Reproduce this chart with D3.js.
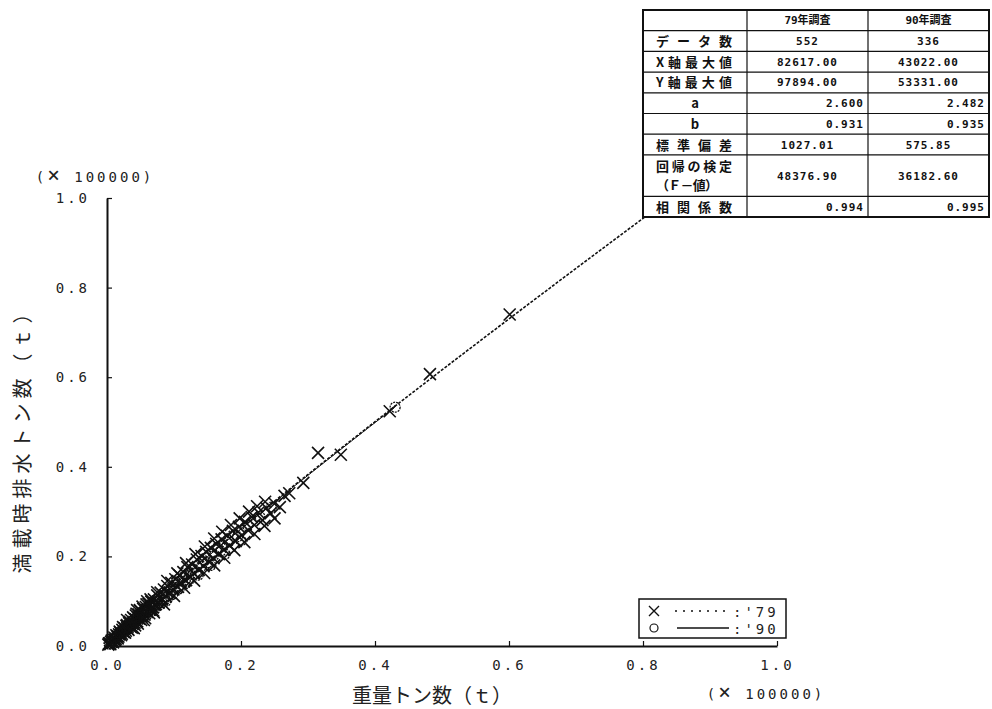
<!DOCTYPE html>
<html lang="ja">
<head>
<meta charset="UTF-8">
<title>重量トン数と満載時排水トン数</title>
<script src="https://d3js.org/d3.v7.min.js"></script>
<style>
html, body { margin: 0; padding: 0; background: white; }
svg { display: block; }
.tick text, .unit, .legend text {
  font-family: 'DejaVu Sans Mono', monospace;
  font-size: 14px;
  letter-spacing: 3px;
  fill: #222;
}
.axis path, .axis line { stroke: #111; }
.axis path { stroke-width: 2px; }
.axis line { stroke-width: 1.2px; }
.title {
  font-family: 'Noto Sans CJK JP', sans-serif;
  font-size: 20px;
  fill: #222;
}
.tbl text {
  font-family: 'DejaVu Sans Mono', 'Noto Sans CJK JP', monospace;
  font-size: 11px;
  font-weight: bold;
  fill: #111;
}
.tbl text.lab {
  font-family: 'Noto Sans CJK JP', sans-serif;
  font-size: 13px;
}
</style>
</head>
<body>
<div id="chart"></div>
<script>

// --------------------------------------
// Data (x 100000 t)
// --------------------------------------

// '79 survey : [重量トン数, 満載時排水トン数]
const pts79 = [
  [0.002,0.003],[0.003,0.006],[0.004,0.006],[0.005,0.004],[0.006,0.009],[0.007,0.012],
  [0.008,0.011],[0.009,0.008],[0.010,0.014],[0.011,0.019],[0.012,0.013],[0.013,0.016],
  [0.014,0.024],[0.015,0.022],[0.016,0.017],[0.017,0.021],[0.018,0.026],[0.019,0.032],
  [0.020,0.030],[0.021,0.024],[0.022,0.027],[0.023,0.036],[0.024,0.042],[0.025,0.031],
  [0.026,0.040],[0.027,0.030],[0.028,0.034],[0.029,0.045],[0.030,0.047],[0.030,0.058],
  [0.031,0.038],[0.032,0.036],[0.033,0.051],[0.034,0.054],[0.035,0.043],[0.036,0.058],
  [0.037,0.041],[0.038,0.049],[0.039,0.064],[0.040,0.062],[0.040,0.040],[0.041,0.052],
  [0.042,0.046],[0.043,0.068],[0.044,0.072],[0.045,0.055],[0.045,0.080],[0.046,0.050],
  [0.047,0.071],[0.048,0.061],[0.049,0.080],[0.050,0.078],[0.051,0.058],[0.052,0.066],
  [0.053,0.088],[0.054,0.083],[0.055,0.058],[0.056,0.070],[0.057,0.062],[0.058,0.087],
  [0.059,0.093],[0.060,0.076],[0.060,0.100],[0.062,0.094],[0.063,0.073],[0.064,0.081],
  [0.065,0.104],[0.066,0.099],[0.068,0.086],[0.069,0.079],[0.070,0.104],[0.070,0.075],
  [0.072,0.092],[0.075,0.113],[0.075,0.120],[0.077,0.097],[0.080,0.119],[0.082,0.104],
  [0.085,0.126],[0.085,0.093],[0.088,0.111],[0.090,0.134],[0.090,0.145],[0.093,0.118],
  [0.096,0.141],[0.099,0.126],[0.100,0.112],[0.102,0.149],[0.105,0.133],[0.105,0.162],
  [0.108,0.158],[0.111,0.140],[0.114,0.165],[0.115,0.130],[0.117,0.147],[0.118,0.185],
  [0.120,0.176],[0.124,0.154],[0.127,0.182],[0.130,0.162],[0.130,0.146],[0.132,0.205],
  [0.134,0.193],[0.137,0.170],[0.141,0.201],[0.144,0.178],[0.145,0.163],[0.146,0.222],
  [0.148,0.210],[0.152,0.188],[0.155,0.219],[0.159,0.196],[0.160,0.240],[0.160,0.180],
  [0.163,0.228],[0.167,0.205],[0.171,0.238],[0.172,0.255],[0.175,0.215],[0.175,0.197],
  [0.179,0.246],[0.183,0.224],[0.185,0.270],[0.188,0.257],[0.190,0.214],[0.192,0.234],
  [0.197,0.266],[0.198,0.285],[0.201,0.247],[0.205,0.232],[0.206,0.277],[0.211,0.258],
  [0.212,0.300],[0.216,0.288],[0.220,0.270],[0.220,0.250],[0.224,0.312],[0.226,0.298],
  [0.232,0.281],[0.235,0.268],[0.236,0.322],[0.238,0.308],[0.244,0.296],[0.250,0.318],
  [0.250,0.285],[0.258,0.310],[0.265,0.335],[0.272,0.341],[0.293,0.364],[0.315,0.431],
  [0.349,0.427],[0.422,0.524],[0.482,0.607],[0.601,0.740],[0.826,0.979]
];

// '90 survey
const pts90 = [
  [0.003,0.005],[0.004,0.004],[0.005,0.007],[0.006,0.010],[0.007,0.010],[0.008,0.008],
  [0.009,0.013],[0.010,0.015],[0.011,0.017],[0.012,0.018],[0.013,0.014],[0.014,0.020],
  [0.015,0.024],[0.016,0.021],[0.017,0.025],[0.018,0.030],[0.019,0.028],[0.020,0.025],
  [0.021,0.032],[0.022,0.029],[0.023,0.034],[0.024,0.036],[0.025,0.030],[0.026,0.034],
  [0.027,0.044],[0.028,0.041],[0.029,0.037],[0.030,0.040],[0.031,0.045],[0.032,0.050],
  [0.033,0.042],[0.034,0.039],[0.035,0.050],[0.036,0.055],[0.037,0.046],[0.038,0.048],
  [0.039,0.056],[0.040,0.064],[0.041,0.051],[0.042,0.055],[0.043,0.060],[0.044,0.068],
  [0.045,0.057],[0.046,0.052],[0.047,0.065],[0.049,0.074],[0.050,0.062],[0.052,0.072],
  [0.053,0.066],[0.055,0.068],[0.057,0.085],[0.058,0.079],[0.060,0.070],[0.061,0.075],
  [0.063,0.092],[0.064,0.085],[0.066,0.077],[0.067,0.082],[0.069,0.100],[0.070,0.093],
  [0.072,0.083],[0.074,0.089],[0.076,0.108],[0.078,0.101],[0.080,0.093],[0.082,0.097],
  [0.084,0.118],[0.086,0.110],[0.088,0.100],[0.090,0.106],[0.093,0.130],[0.095,0.124],
  [0.098,0.115],[0.100,0.131],[0.103,0.143],[0.106,0.127],[0.109,0.128],[0.112,0.145],
  [0.115,0.155],[0.118,0.140],[0.121,0.143],[0.125,0.160],[0.128,0.172],[0.133,0.162],
  [0.136,0.158],[0.141,0.178],[0.145,0.190],[0.150,0.186],[0.155,0.180],[0.160,0.203],
  [0.165,0.220],[0.170,0.212],[0.176,0.205],[0.182,0.233],[0.188,0.248],[0.195,0.244],
  [0.200,0.235],[0.210,0.268],[0.228,0.289],[0.245,0.310],[0.430,0.533]
];

const xTicks = [0.0, 0.2, 0.4, 0.6, 0.8, 1.0];
const yTicks = [0.0, 0.2, 0.4, 0.6, 0.8, 1.0];

// statistics table
const colHeaders = ["", "79年調査", "90年調査"];
const rowLabels = ["データ数", "X軸最大値", "Y軸最大値", "a", "b", "標準偏差", "回帰の検定|（Ｆ－値）", "相関係数"];
const col79 = ["552", "82617.00", "97894.00", "2.600", "0.931", "1027.01", "48376.90", "0.994"];
const col90 = ["336", "43022.00", "53331.00", "2.482", "0.935", "575.85", "36182.60", "0.995"];

// --------------------------------------
// Size
// --------------------------------------

const totalWidth = 992;
const totalHeight = 709;
const plot = {left: 107, right: 777, top: 198, bottom: 646};

const svg = d3.select("#chart")
  .append("svg")
  .attr("width", totalWidth)
  .attr("height", totalHeight);

const x = d3.scaleLinear().domain([0, 1]).range([plot.left, plot.right]);
const y = d3.scaleLinear().domain([0, 1]).range([plot.bottom, plot.top]);

// --------------------------------------
// Regression curves  Y = a * X^b  (t)
// --------------------------------------

const a79 = +col79[3], b79 = +col79[4];
const a90 = +col90[3], b90 = +col90[4];
const fit = (a, b) => v => a * Math.pow(v * 1e5, b) / 1e5;

const curve = d3.line().x(d => x(d[0])).y(d => y(d[1]));
const sample = (f, xmax) => d3.range(0.001, xmax, 0.004).concat([xmax]).map(v => [v, f(v)]);

svg.append("path")
  .datum(sample(fit(a79, b79), +col79[1] / 1e5))
  .attr("d", curve)
  .attr("fill", "none")
  .attr("stroke", "#111")
  .attr("stroke-width", 1.6)
  .attr("stroke-dasharray", "3,1.5");

svg.append("path")
  .datum(sample(fit(a90, b90), +col90[1] / 1e5))
  .attr("d", curve)
  .attr("fill", "none")
  .attr("stroke", "#111")
  .attr("stroke-width", 1);

// --------------------------------------
// Points
// --------------------------------------

const s = 6;
svg.append("g")
  .selectAll("path")
  .data(pts79)
  .join("path")
  .attr("d", d => `M${x(d[0]) - s},${y(d[1]) - s}L${x(d[0]) + s},${y(d[1]) + s}M${x(d[0]) - s},${y(d[1]) + s}L${x(d[0]) + s},${y(d[1]) - s}`)
  .attr("stroke", "#111")
  .attr("stroke-width", 1.6)
  .attr("fill", "none");

svg.append("g")
  .selectAll("circle")
  .data(pts90)
  .join("circle")
  .attr("cx", d => x(d[0]))
  .attr("cy", d => y(d[1]))
  .attr("r", 5)
  .attr("fill", "none")
  .attr("stroke", "#111")
  .attr("stroke-width", 1.3)
  .attr("stroke-dasharray", "2,1");

// --------------------------------------
// Axes
// --------------------------------------

svg.append("g")
  .attr("class", "axis")
  .attr("transform", `translate(0,${plot.bottom})`)
  .call(d3.axisBottom(x).tickValues(xTicks).tickSizeInner(-5).tickSizeOuter(0)
    .tickPadding(14).tickFormat(d3.format(".1f")));

svg.append("g")
  .attr("class", "axis")
  .attr("transform", `translate(${plot.left},0)`)
  .call(d3.axisLeft(y).tickValues(yTicks).tickSizeInner(-5).tickSizeOuter(0)
    .tickPadding(17).tickFormat(d3.format(".1f")));

svg.selectAll(".axis .domain").attr("stroke-width", 2);

// unit labels with a large thin cross
[[95, 182], [766, 699]].forEach(p => {
  const t = svg.append("text")
    .attr("class", "unit")
    .attr("x", p[0]).attr("y", p[1])
    .attr("text-anchor", "middle");
  t.append("tspan").text("(");
  t.append("tspan").attr("font-size", "21px").attr("font-weight", "300").text("×");
  t.append("tspan").text(" 100000)");
});

svg.append("text")
  .attr("class", "title")
  .attr("x", 432).attr("y", 703)
  .attr("text-anchor", "middle")
  .text("重量トン数（ｔ）");

svg.append("text")
  .attr("class", "title")
  .attr("transform", "translate(30,436) rotate(-90)")
  .attr("text-anchor", "middle")
  .attr("letter-spacing", "5px")
  .text("満載時排水トン数（ｔ）");

// --------------------------------------
// Legend
// --------------------------------------

const legend = svg.append("g")
  .attr("class", "legend")
  .attr("transform", "translate(639,599)");

legend.append("rect")
  .attr("width", 147).attr("height", 39)
  .attr("fill", "white")
  .attr("stroke", "#111")
  .attr("stroke-width", 1.5);

legend.append("path")
  .attr("d", "M10,7L20,17M10,17L20,7")
  .attr("stroke", "#111").attr("stroke-width", 1.4);
legend.append("line")
  .attr("x1", 36).attr("x2", 90).attr("y1", 12).attr("y2", 12)
  .attr("stroke", "#111").attr("stroke-width", 1.5).attr("stroke-dasharray", "2,6");
legend.append("text").attr("x", 94).attr("y", 18).text(":'79");

legend.append("circle")
  .attr("cx", 15).attr("cy", 29).attr("r", 4)
  .attr("fill", "none").attr("stroke", "#111").attr("stroke-width", 1.2);
legend.append("line")
  .attr("x1", 38).attr("x2", 90).attr("y1", 29).attr("y2", 29)
  .attr("stroke", "#111").attr("stroke-width", 1.5);
legend.append("text").attr("x", 94).attr("y", 35).text(":'90");

// --------------------------------------
// Table
// --------------------------------------

const tbl = svg.append("g").attr("class", "tbl");
const colX = [643, 747, 868, 989];
const tTop = 10;
const rowH = 20.7;
const spans = [1].concat(rowLabels.map(l => l.includes("|") ? 2 : 1));
const rowY = [tTop];
spans.forEach(n => rowY.push(rowY[rowY.length - 1] + n * rowH));
const tBottom = rowY[rowY.length - 1];
const alignRight = ["a", "b", "相関係数"];

tbl.append("rect")
  .attr("x", colX[0]).attr("y", tTop)
  .attr("width", colX[3] - colX[0]).attr("height", tBottom - tTop)
  .attr("fill", "white");

tbl.selectAll(".hl")
  .data(rowY.slice(1, -1))
  .join("line")
  .attr("x1", colX[0]).attr("x2", colX[3])
  .attr("y1", d => d).attr("y2", d => d)
  .attr("stroke", "#111").attr("stroke-width", 1.2);

tbl.selectAll(".vl")
  .data(colX.slice(1, -1))
  .join("line")
  .attr("x1", d => d).attr("x2", d => d)
  .attr("y1", tTop).attr("y2", tBottom)
  .attr("stroke", "#111").attr("stroke-width", 1.2);

tbl.append("rect")
  .attr("x", colX[0]).attr("y", tTop)
  .attr("width", colX[3] - colX[0]).attr("height", tBottom - tTop)
  .attr("fill", "none").attr("stroke", "#111").attr("stroke-width", 2);

colHeaders.forEach((h, j) => {
  tbl.append("text")
    .attr("x", (colX[j] + colX[j + 1]) / 2)
    .attr("y", (rowY[0] + rowY[1]) / 2 + 4)
    .attr("text-anchor", "middle")
    .attr("font-size", "12px")
    .text(h);
});

rowLabels.forEach((lab, i) => {
  const y0 = rowY[i + 1], y1 = rowY[i + 2];
  const cy = (y0 + y1) / 2;
  const lines = lab.split("|");
  lines.forEach((ln, k) => {
    const t = tbl.append("text")
      .attr("class", "lab")
      .attr("x", ln.length > 1 ? colX[0] + 13 : (colX[0] + colX[1]) / 2)
      .attr("y", cy + 5 + (k - (lines.length - 1) / 2) * 19)
      .attr("text-anchor", ln.length > 1 ? "start" : "middle")
      .text(ln);
    if (ln.length > 1) t.attr("textLength", k === 0 ? 76 : 62).attr("lengthAdjust", "spacing");
  });
  [col79[i], col90[i]].forEach((v, j) => {
    const right = alignRight.includes(lab);
    tbl.append("text")
      .attr("x", right ? colX[j + 2] - 4 : (colX[j + 1] + colX[j + 2]) / 2)
      .attr("y", cy + 4)
      .attr("text-anchor", right ? "end" : "middle")
      .attr("letter-spacing", "1px")
      .text(v);
  });
});

</script>
</body>
</html>
